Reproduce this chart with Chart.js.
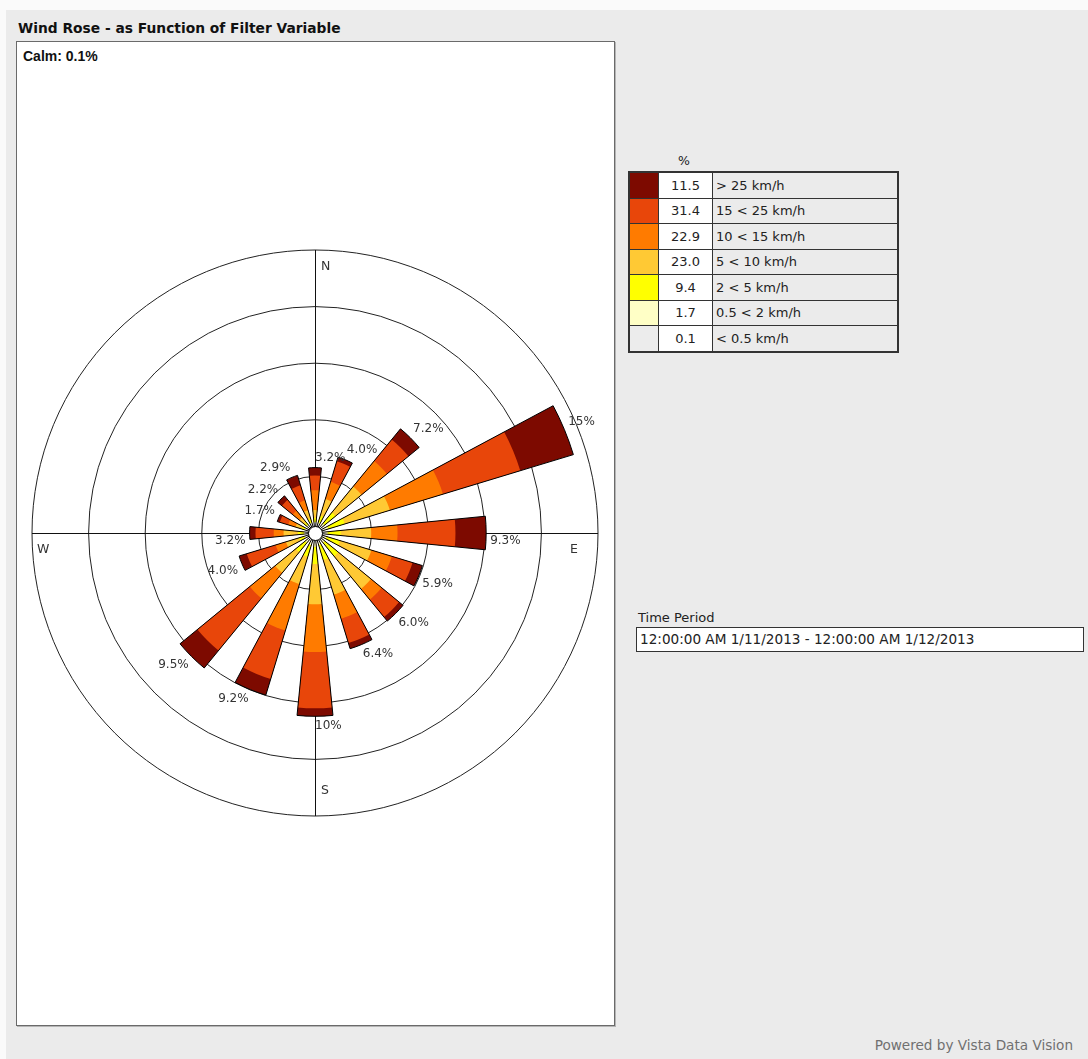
<!DOCTYPE html>
<html><head><meta charset="utf-8">
<script src="https://cdn.jsdelivr.net/npm/chart.js@4.4.1/dist/chart.umd.min.js"></script>
<style>
html,body{margin:0;padding:0;}
body{width:1088px;height:1059px;background:#fafafa;position:relative;overflow:hidden;font-family:"DejaVu Sans",sans-serif;color:#222;}
#bg{position:absolute;left:6px;top:10px;right:0;bottom:0;background:#ebebeb;}
#title{position:absolute;left:18px;top:20px;font-weight:bold;font-size:13.8px;color:#111;}
#panel{position:absolute;left:16px;top:41px;width:597px;height:983px;background:#fff;border:1px solid #6a6a6a;box-shadow:1px 1px 0 #b5b5b5;}
#calm{position:absolute;left:23px;top:48px;font-size:14px;font-weight:bold;color:#111;font-family:"Liberation Sans",sans-serif;}
#chartBox{position:absolute;left:27px;top:245px;width:576px;height:576px;}
#pct{position:absolute;left:678px;top:153px;font-size:12.5px;}
#legend{position:absolute;left:628px;top:171px;border-collapse:collapse;font-size:13px;border:2px solid #333;}
#legend td{border:1px solid #333;height:24.5px;padding:0;}
#legend td.sw{width:28px;}
#legend td.val{width:53px;background:#fff;text-align:center;}
#legend td.lab{width:181px;background:#ebebeb;padding-left:3px;}
#tpLabel{position:absolute;left:638px;top:610px;font-size:13px;}
#tpBox{position:absolute;left:636px;top:627px;width:443px;height:23px;background:#fff;border:1px solid #333;font-size:13.6px;line-height:23px;padding-left:3px;box-sizing:content-box;}
#powered{position:absolute;right:15px;top:1037px;font-size:13.6px;color:#707070;}
</style></head>
<body>
<div id="bg"></div>
<div id="title">Wind Rose - as Function of Filter Variable</div>
<div id="panel"></div>
<div id="calm">Calm: 0.1%</div>
<div id="chartBox"><canvas id="c"></canvas></div>
<div id="pct">%</div>
<table id="legend"><tbody id="lbody"></tbody></table>
<div id="tpLabel">Time Period</div>
<div id="tpBox">12:00:00 AM 1/11/2013 - 12:00:00 AM 1/12/2013</div>
<div id="powered">Powered by Vista Data Vision</div>
<script>
// ---- data ----
const directions = ['N','NNE','NE','ENE','E','ESE','SE','SSE','S','SSW','SW','WSW','W','WNW','NW','NNW'];
const binLabels = ['> 25 km/h','15 < 25 km/h','10 < 15 km/h','5 < 10 km/h','2 < 5 km/h','0.5 < 2 km/h','< 0.5 km/h'];
const binPercents = ['11.5','31.4','22.9','23.0','9.4','1.7','0.1'];
const binColors = ['#7d0a00','#e8460a','#ff7b00','#ffc934','#ffff00','#ffffc6','#ececec'];
// frequency (%) per direction (N clockwise) for each speed class
const below05   = [0,0,0,0.02,0.01,0.01,0.01,0.01,0.02,0.01,0.01,0,0,0,0,0];
const from05to2 = [0.05,0.08,0.15,0.2,0.15,0.12,0.15,0.15,0.2,0.15,0.15,0.06,0.06,0.04,0.04,0.05];
const from2to5  = [0.25,0.4,0.8,1.0,0.75,0.8,1.0,0.9,1.0,0.7,0.7,0.35,0.35,0.2,0.2,0.25];
const from5to10 = [0.45,1.0,1.95,2.72,1.76,1.9,2.44,2.08,2.32,1.65,1.54,0.77,0.83,0.36,0.36,0.5];
const from10to15= [1.15,1.03,1.9,3.2,1.52,1.23,0.8,1.46,2.75,2.8,1.9,0.62,0.57,0.45,0.5,0.6];
const from15to25= [0.85,1.24,1.6,4.66,3.34,1.25,1.3,1.46,3.25,2.92,3.9,1.74,1.05,0.5,0.8,0.9];
const above25   = [0.45,0.25,0.8,3.2,1.77,0.59,0.3,0.34,0.46,0.97,1.3,0.46,0.34,0.15,0.3,0.6];
const tipLabels = ['3.2%','4.0%','7.2%','15%','9.3%','5.9%','6.0%','6.4%','10%','9.2%','9.5%','4.0%','3.2%','1.7%','2.2%','2.9%'];
const compass = ['N','E','S','W'];

// ---- legend table ----
const lb = document.getElementById('lbody');
binLabels.forEach((l,i)=>{
  const tr=document.createElement('tr');
  tr.innerHTML='<td class="sw" style="background:'+binColors[i]+'"></td><td class="val">'+binPercents[i]+'</td><td class="lab">'+l+'</td>';
  lb.appendChild(tr);
});

// ---- chart ----
const RMIN = -0.5714, RMAX = 15.75;
const binsInner = [below05, from05to2, from2to5, from5to10, from10to15, from15to25, above25];
const colorsInner = binColors.slice().reverse();
const cum = [];
let run = directions.map(()=>0);
binsInner.forEach(b=>{ run = run.map((v,i)=>v+b[i]); cum.push(run.slice()); });
const interleave = arr => arr.flatMap(v=>[v,0]);
const labels = directions.flatMap(d=>[d,'']);
const datasets = [{
  data: interleave(cum[cum.length-1]),
  backgroundColor:'rgba(0,0,0,0)',
  borderColor:'#000',
  borderWidth: labels.map((l,i)=> i%2===0 ? 1 : 0),
  borderJoinStyle:'miter'
}];
cum.forEach((c,b)=>{
  datasets.push({
    data: interleave(c),
    backgroundColor: labels.map((l,i)=> i%2===0 ? colorsInner[b] : 'rgba(0,0,0,0)'),
    borderWidth:0
  });
});

const decor = {
  id:'decor',
  beforeDatasetsDraw(chart){
    const s=chart.scales.r, ctx=chart.ctx, cx=s.xCenter, cy=s.yCenter, R=s.drawingArea;
    ctx.save();
    ctx.strokeStyle='#111'; ctx.lineWidth=1;
    ctx.beginPath();
    ctx.moveTo(cx+0.5, cy-R); ctx.lineTo(cx+0.5, cy+R);
    ctx.moveTo(cx-R, cy+0.5); ctx.lineTo(cx+R, cy+0.5);
    ctx.stroke();
    ctx.fillStyle='#333'; ctx.font='12.5px "DejaVu Sans"';
    ctx.textBaseline='top'; ctx.textAlign='left';
    ctx.fillText(compass[0], cx+6, cy-R+10);
    ctx.textBaseline='bottom';
    ctx.fillText(compass[2], cx+6, cy+R-19);
    ctx.textBaseline='top';
    ctx.fillText(compass[3], cx-R+5, cy+10);
    ctx.textAlign='right';
    ctx.fillText(compass[1], cx+R-20, cy+10);
    ctx.restore();
  },
  afterDatasetsDraw(chart){
    const s=chart.scales.r, ctx=chart.ctx, cx=s.xCenter, cy=s.yCenter;
    ctx.save();
    ctx.beginPath(); ctx.arc(cx+0.5, cy+0.5, 7, 0, Math.PI*2);
    ctx.fillStyle='#fff'; ctx.fill(); ctx.strokeStyle='#000'; ctx.lineWidth=1; ctx.stroke();
    const meta=chart.getDatasetMeta(0);
    ctx.fillStyle='#333'; ctx.font='12px "DejaVu Sans"';
    directions.forEach((d,i)=>{
      const el=meta.data[i*2];
      const p=el.getProps(['startAngle','endAngle','outerRadius'],true);
      const a=(p.startAngle+p.endAngle)/2;
      const c=Math.cos(a), sn=Math.sin(a);
      const r=p.outerRadius+4;
      ctx.textAlign = c >= -0.1 ? 'left' : 'right';
      ctx.textBaseline = sn >= -0.1 ? 'top' : 'bottom';
      ctx.fillText(tipLabels[i], cx + c*r, cy + sn*r + (Math.abs(sn)<0.3 ? 2 : 0));
    });
    ctx.restore();
  }
};

new Chart(document.getElementById('c'), {
  type:'polarArea',
  data:{labels, datasets},
  options:{
    responsive:true, maintainAspectRatio:false, animation:false, events:[],
    layout:{padding:5},
    plugins:{legend:{display:false}, tooltip:{enabled:false}},
    scales:{r:{
      min:RMIN, max:RMAX, startAngle:-5.625,
      ticks:{display:false},
      afterBuildTicks:(sc)=>{ const step=(RMAX-RMIN)/5; sc.ticks=[1,2,3,4,5].map(j=>({value:RMIN+j*step})); },
      grid:{circular:true, color:'#222', lineWidth:1},
      angleLines:{display:false},
      pointLabels:{display:false}
    }}
  },
  plugins:[decor]
});
</script>
</body></html>
